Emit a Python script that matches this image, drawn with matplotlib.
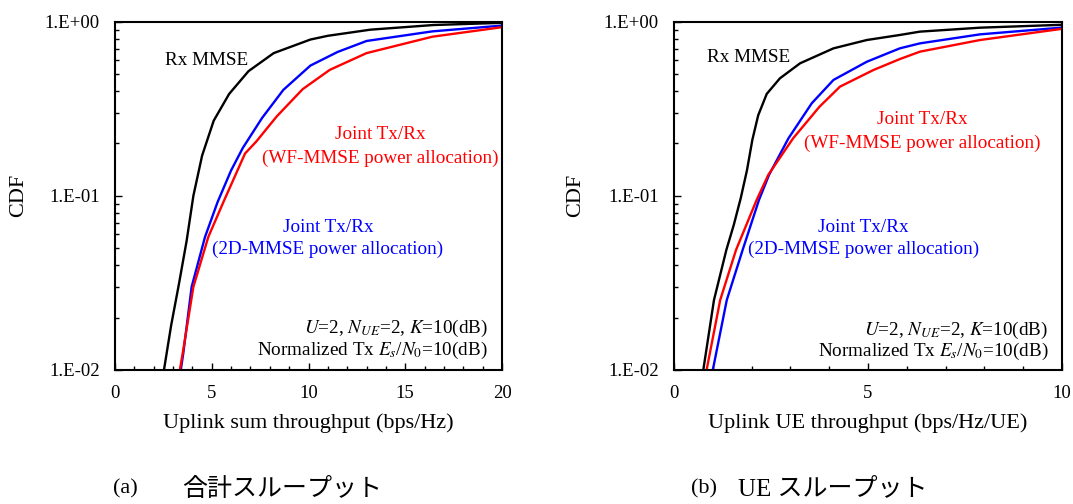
import matplotlib
matplotlib.use("Agg")
import matplotlib.pyplot as plt
from matplotlib.ticker import LogLocator, MultipleLocator, NullFormatter

plt.rcParams["font.family"] = ["Liberation Serif", "Noto Sans CJK JP"]
plt.rcParams["mathtext.fontset"] = "stix"

# (a) uplink sum throughput CDF
sum_rx_x = [2.53, 2.9, 3.3, 3.7, 4.05, 4.5, 5.1, 5.9, 6.9, 8.2, 10.1, 11.0, 13.2, 16.45, 20.0]
sum_rx_y = [0.010, 0.018, 0.031, 0.055, 0.10, 0.17, 0.27, 0.385, 0.52, 0.66, 0.79, 0.83, 0.90, 0.957, 0.985]

sum_2d_x = [3.40, 3.53, 3.96, 4.65, 5.3, 6.0, 6.6, 7.6, 8.7, 10.1, 11.5, 13.0, 16.4, 20.0]
sum_2d_y = [0.010, 0.0125, 0.030, 0.058, 0.092, 0.14, 0.188, 0.28, 0.406, 0.56, 0.67, 0.775, 0.88, 0.95]

sum_wf_x = [3.35, 3.50, 4.05, 4.82, 5.6, 6.72, 7.3, 8.36, 9.7, 11.1, 13.0, 16.4, 20.0]
sum_wf_y = [0.010, 0.0125, 0.030, 0.058, 0.092, 0.175, 0.205, 0.286, 0.41, 0.529, 0.66, 0.82, 0.93]

# (b) uplink UE throughput CDF
ue_rx_x = [0.755, 1.03, 1.35, 1.54, 1.72, 1.88, 2.02, 2.17, 2.39, 2.73, 3.25, 4.11, 4.97, 5.82, 6.34, 7.89, 10.0]
ue_rx_y = [0.010, 0.0252, 0.049, 0.068, 0.097, 0.14, 0.21, 0.29, 0.385, 0.473, 0.577, 0.703, 0.785, 0.839, 0.877, 0.924, 0.96]

ue_2d_x = [1.0, 1.36, 1.77, 2.19, 2.45, 2.95, 3.55, 4.11, 4.97, 5.82, 6.34, 7.89, 10.0]
ue_2d_y = [0.010, 0.0252, 0.049, 0.0947, 0.132, 0.214, 0.34, 0.463, 0.589, 0.703, 0.751, 0.846, 0.925]

ue_wf_x = [0.84, 1.19, 1.6, 2.13, 2.43, 3.07, 3.75, 4.28, 5.14, 5.82, 6.34, 7.89, 10.0]
ue_wf_y = [0.010, 0.0252, 0.049, 0.0947, 0.132, 0.214, 0.325, 0.424, 0.528, 0.61, 0.673, 0.785, 0.91]

ytick_vals = [0.01, 0.1, 1.0]
ytick_labels = ["1.E-02", "1.E-01", "1.E+00"]

fig = plt.figure(figsize=(10.73, 5.04), dpi=100)
ax1 = fig.add_axes([115 / 1073, 1 - 370 / 504, 387 / 1073, 348.3 / 504])
ax2 = fig.add_axes([674 / 1073, 1 - 370 / 504, 388 / 1073, 348.3 / 504])


def style_axes(ax, xmax, xlabel, ylab_x):
    ax.set_yscale("log")
    ax.set_ylim(0.01, 1.0)
    ax.set_xlim(0, xmax)
    ax.set_yticks(ytick_vals)
    ax.set_yticklabels(ytick_labels)
    ax.yaxis.set_minor_locator(LogLocator(base=10, subs=range(2, 10)))
    ax.yaxis.set_minor_formatter(NullFormatter())
    ax.xaxis.set_major_locator(MultipleLocator(5))
    ax.xaxis.set_minor_locator(MultipleLocator(1))
    ax.tick_params(which="both", direction="in", top=False, right=False,
                   labelsize=13.5, width=1, pad=11)
    ax.tick_params(which="major", length=5)
    ax.tick_params(which="minor", length=3)
    for s in ax.spines.values():
        s.set_linewidth(1.5)
    ax.set_xlabel(xlabel, fontsize=16)
    ax.set_ylabel("CDF", fontsize=16)
    ax.xaxis.set_label_coords(0.5, -0.123)
    ax.yaxis.set_label_coords(ylab_x, 0.5)


ax1.plot(sum_rx_x, sum_rx_y, color="black", lw=1.7)
ax1.plot(sum_2d_x, sum_2d_y, color="blue", lw=1.7)
ax1.plot(sum_wf_x, sum_wf_y, color="red", lw=1.7)
style_axes(ax1, 20, "Uplink sum throughput (bps/Hz)", -0.225)

ax2.plot(ue_rx_x, ue_rx_y, color="black", lw=1.7)
ax2.plot(ue_2d_x, ue_2d_y, color="blue", lw=1.7)
ax2.plot(ue_wf_x, ue_wf_y, color="red", lw=1.7)
style_axes(ax2, 10, "Uplink UE throughput (bps/Hz/UE)", -0.229)

fs = 13.8
# left panel labels
ax1.text(0.129, 0.89, "Rx MMSE", transform=ax1.transAxes, fontsize=fs, va="center", ha="left")
ax1.text(0.685, 0.675, "Joint Tx/Rx", transform=ax1.transAxes, fontsize=fs, color="red", ha="center", va="center")
ax1.text(0.685, 0.609, "(WF-MMSE power allocation)", transform=ax1.transAxes, fontsize=fs, color="red", ha="center", va="center")
ax1.text(0.55, 0.408, "Joint Tx/Rx", transform=ax1.transAxes, fontsize=fs, color="blue", ha="center", va="center")
ax1.text(0.55, 0.346, "(2D-MMSE power allocation)", transform=ax1.transAxes, fontsize=fs, color="blue", ha="center", va="center")
ax1.text(0.964, 0.118, r"$U$=2, $N_{UE}$=2, $K$=10(dB)", transform=ax1.transAxes, fontsize=fs, ha="right", va="center")
ax1.text(0.964, 0.055, r"Normalized Tx $E_s$/$N_0$=10(dB)", transform=ax1.transAxes, fontsize=fs, ha="right", va="center")

# right panel labels
ax2.text(0.084, 0.896, "Rx MMSE", transform=ax2.transAxes, fontsize=fs, va="center", ha="left")
ax2.text(0.639, 0.718, "Joint Tx/Rx", transform=ax2.transAxes, fontsize=fs, color="red", ha="center", va="center")
ax2.text(0.639, 0.652, "(WF-MMSE power allocation)", transform=ax2.transAxes, fontsize=fs, color="red", ha="center", va="center")
ax2.text(0.489, 0.408, "Joint Tx/Rx", transform=ax2.transAxes, fontsize=fs, color="blue", ha="center", va="center")
ax2.text(0.489, 0.345, "(2D-MMSE power allocation)", transform=ax2.transAxes, fontsize=fs, color="blue", ha="center", va="center")
ax2.text(0.965, 0.115, r"$U$=2, $N_{UE}$=2, $K$=10(dB)", transform=ax2.transAxes, fontsize=fs, ha="right", va="center")
ax2.text(0.965, 0.052, r"Normalized Tx $E_s$/$N_0$=10(dB)", transform=ax2.transAxes, fontsize=fs, ha="right", va="center")

# captions
cap_y = 1 - 489 / 504
fig.text(113 / 1073, cap_y, "(a)", fontsize=16, va="center", ha="left")
fig.text(182 / 1073, cap_y, "合計スループット", fontsize=18, va="center", ha="left")
fig.text(691 / 1073, cap_y, "(b)", fontsize=16, va="center", ha="left")
fig.text(738 / 1073, cap_y, "UE スループット", fontsize=18, va="center", ha="left")

fig.savefig("out.png", dpi=100)
